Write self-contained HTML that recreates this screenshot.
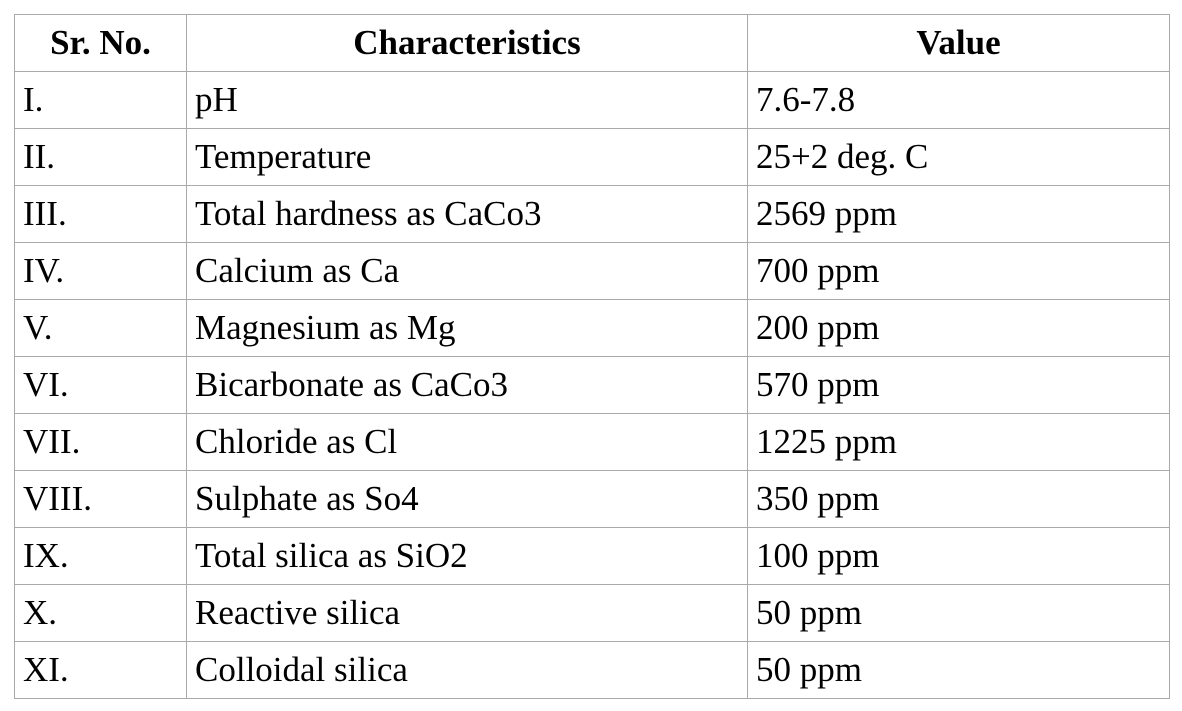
<!DOCTYPE html>
<html><head><meta charset="utf-8"><style>
body{margin:0;background:#fff;width:1182px;height:711px;overflow:hidden}
table{position:absolute;left:14px;top:14px;border-collapse:collapse;font-family:"Liberation Serif",serif;font-size:35px;color:#000}
td,th{border:1px solid #a9a9a9;height:57px;padding:0 0 0 8px;text-align:left;vertical-align:middle;box-sizing:border-box;line-height:40px}
th{text-align:center;padding:0;font-weight:bold}
</style></head><body>
<table>
<colgroup><col style="width:172px"><col style="width:561px"><col style="width:422px"></colgroup>
<tr><th>Sr. No.</th><th>Characteristics</th><th>Value</th></tr>
<tr><td>I.</td><td>pH</td><td>7.6-7.8</td></tr>
<tr><td>II.</td><td>Temperature</td><td>25+2 deg. C</td></tr>
<tr><td>III.</td><td>Total hardness as CaCo3</td><td>2569 ppm</td></tr>
<tr><td>IV.</td><td>Calcium as Ca</td><td>700 ppm</td></tr>
<tr><td>V.</td><td>Magnesium as Mg</td><td>200 ppm</td></tr>
<tr><td>VI.</td><td>Bicarbonate as CaCo3</td><td>570 ppm</td></tr>
<tr><td>VII.</td><td>Chloride as Cl</td><td>1225 ppm</td></tr>
<tr><td>VIII.</td><td>Sulphate as So4</td><td>350 ppm</td></tr>
<tr><td>IX.</td><td>Total silica as SiO2</td><td>100 ppm</td></tr>
<tr><td>X.</td><td>Reactive silica</td><td>50 ppm</td></tr>
<tr><td>XI.</td><td>Colloidal silica</td><td>50 ppm</td></tr>
</table>
</body></html>
